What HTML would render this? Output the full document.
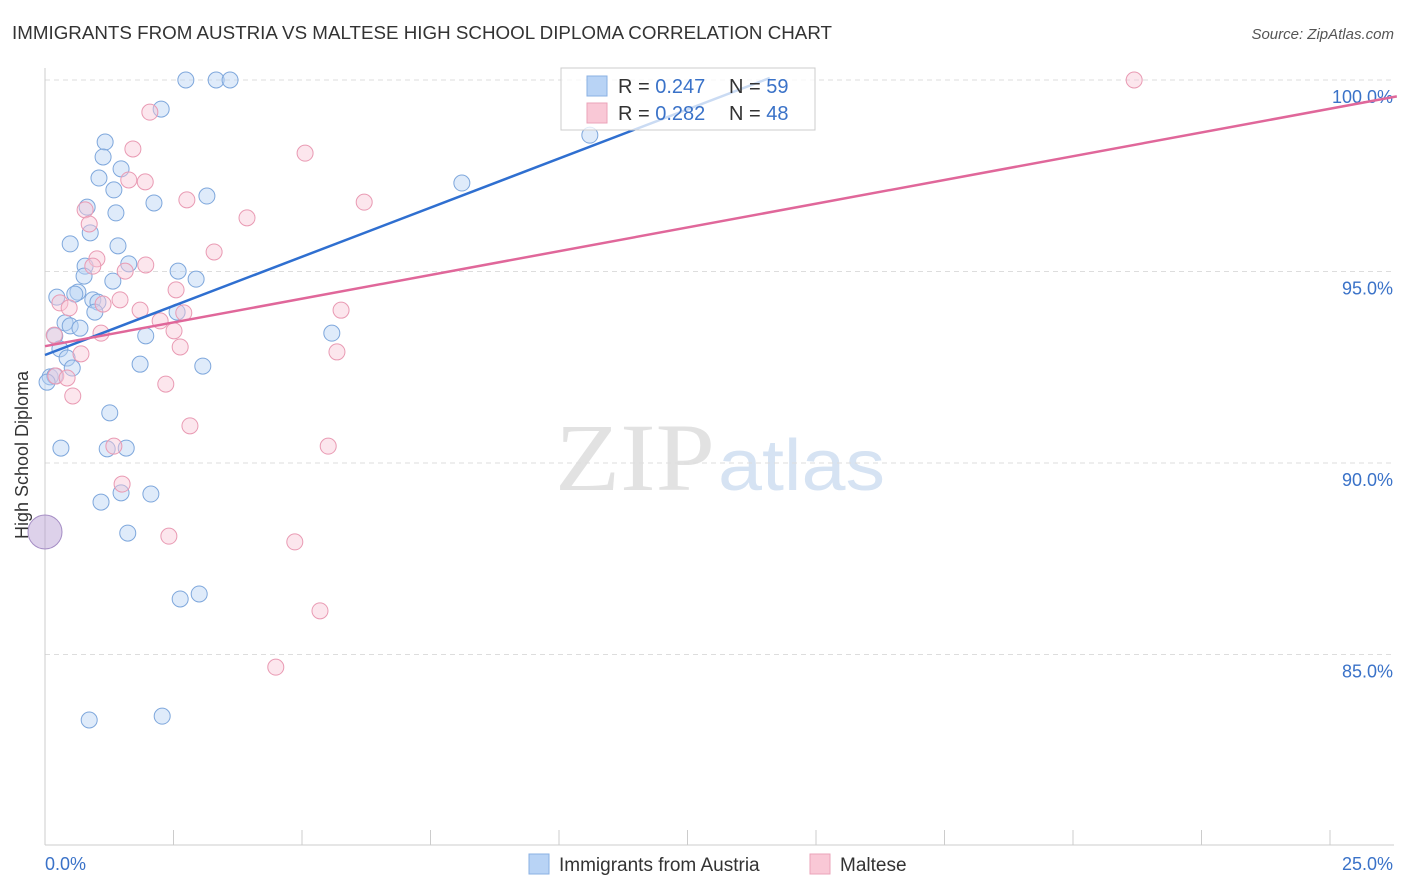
<!DOCTYPE html>
<html><head><meta charset="utf-8"><style>
body{margin:0;background:#fff;font-family:"Liberation Sans",sans-serif;}
#c{position:relative;width:1406px;height:892px;overflow:hidden;}
</style></head><body>
<div id="c">
<svg id="s" width="1406" height="892" xmlns="http://www.w3.org/2000/svg">
<text x="12" y="39" font-size="18" fill="#333" textLength="820" lengthAdjust="spacingAndGlyphs">IMMIGRANTS FROM AUSTRIA VS MALTESE HIGH SCHOOL DIPLOMA CORRELATION CHART</text>
<text x="1394" y="39" font-size="15" fill="#555" font-style="italic" text-anchor="end">Source: ZipAtlas.com</text>
<text x="555" y="490" font-size="96" fill="#e2e2e2" textLength="160" lengthAdjust="spacingAndGlyphs" font-family="Liberation Serif,serif">ZIP</text>
<text x="718" y="490" font-size="72" fill="#d6e3f3" textLength="167" lengthAdjust="spacingAndGlyphs">atlas</text>
<g id="grid"></g><g id="axes"></g><g id="pts"></g><g id="lines"></g>
<text x="28" y="455" font-size="18" fill="#333" text-anchor="middle" transform="rotate(-90 28 455)">High School Diploma</text>
<g>
<rect x="561" y="68" width="254" height="62" fill="#fff" fill-opacity="0.75" stroke="#ccc"/>
<rect x="587" y="76" width="20" height="20" fill="#b8d3f5" stroke="#8ab0e3"/>
<text x="618" y="93" font-size="20" fill="#333">R = <tspan fill="#3a72c8">0.247</tspan></text>
<text x="729" y="93" font-size="20" fill="#333">N = <tspan fill="#3a72c8">59</tspan></text>
<rect x="587" y="103" width="20" height="20" fill="#f9c8d6" stroke="#eba3b9"/>
<text x="618" y="120" font-size="20" fill="#333">R = <tspan fill="#3a72c8">0.282</tspan></text>
<text x="729" y="120" font-size="20" fill="#333">N = <tspan fill="#3a72c8">48</tspan></text>
</g>
<g>
<rect x="529" y="854" width="20" height="20" fill="#b8d3f5" stroke="#8ab0e3"/>
<text x="559" y="871" font-size="19" fill="#333">Immigrants from Austria</text>
<rect x="810" y="854" width="20" height="20" fill="#f9c8d6" stroke="#eba3b9"/>
<text x="840" y="871" font-size="19" fill="#333">Maltese</text>
</g>
</svg></div>
<script>
const blueX=[2.74,3.33,3.60,2.26,1.17,10.60,1.13,1.48,1.05,1.34,3.15,2.12,8.11,0.82,1.38,0.88,0.49,1.42,1.63,0.78,2.59,0.76,2.94,1.32,0.23,0.64,0.58,0.93,1.03,0.97,2.57,0.39,0.49,0.68,0.19,1.96,5.58,0.29,0.43,1.85,3.07,0.53,0.10,0.19,0.04,1.26,0.31,1.21,1.58,1.09,1.48,2.06,1.61,2.63,3.00,0.86,2.28];
const blueY=[100,100,100,99.24,98.38,98.56,97.99,97.68,97.44,97.13,96.97,96.79,97.31,96.68,96.53,96.01,95.72,95.67,95.20,95.14,95.01,94.88,94.80,94.75,94.33,94.46,94.41,94.26,94.20,93.94,93.94,93.66,93.58,93.52,93.32,93.32,93.39,92.98,92.74,92.58,92.53,92.48,92.25,92.27,92.11,91.31,90.39,90.37,90.39,88.98,89.22,89.19,88.17,86.45,86.58,83.29,83.39];
const pinkX=[21.19,2.04,1.71,5.06,1.95,1.63,2.76,6.21,0.78,0.86,3.93,3.29,1.01,1.96,0.93,1.56,2.55,0.29,0.47,1.46,1.13,1.85,2.70,2.24,2.51,1.09,5.76,0.18,2.63,0.70,5.68,0.21,0.43,2.35,0.54,2.82,5.51,1.34,1.50,2.41,4.86,5.35,4.49];
const pinkY=[100,99.16,98.20,98.09,97.34,97.39,96.87,96.81,96.61,96.24,96.40,95.51,95.33,95.17,95.14,95.01,94.52,94.18,94.05,94.26,94.15,93.99,93.92,93.71,93.45,93.39,93.99,93.34,93.03,92.85,92.90,92.27,92.22,92.06,91.75,90.97,90.44,90.44,89.45,88.09,87.94,86.14,84.67];
const bigX=[0],bigY=[88.2];
const yTicks=[100,95,90,85];
const yTickLabels=["100.0%","95.0%","90.0%","85.0%"];
const xEnds=["0.0%","25.0%"];
const blueLine=[0,14.1,92.82,0.513];
const pinkLine=[0,26.3,93.05,0.248];
const NS="http://www.w3.org/2000/svg";
const X=v=>45+v*51.4, Y=v=>80+(100-v)*38.3;
function mk(p,t,a){const e=document.createElementNS(NS,t);for(const k in a)e.setAttribute(k,a[k]);document.getElementById(p).appendChild(e);return e;}
yTicks.forEach((t,i)=>{
 const l=mk('grid','line',{x1:45,x2:1394,y1:Y(t),y2:Y(t),stroke:'#ddd','stroke-dasharray':'5,4'});
 
 
 const tx=mk('axes','text',{x:1393,y:Y(t)+23,'font-size':18,fill:'#3a72c8','text-anchor':'end'});
 tx.textContent=yTickLabels[i];
 
 
});
const ax=mk('axes','line',{x1:45,x2:1394,y1:845,y2:845,stroke:'#ccc'});


const ay=mk('axes','line',{x1:45,x2:45,y1:68,y2:845,stroke:'#ccc'});


for(let i=0;i<=10;i++){
 const t=mk('axes','line',{x1:X(i*2.5),x2:X(i*2.5),y1:830,y2:845,stroke:'#ccc'});
 
 
}
[[0,45,'start'],[1,1393,'end']].forEach(([i,x,a])=>{
 const t=mk('axes','text',{x:x,y:870,'font-size':18,fill:'#3a72c8','text-anchor':a});
 t.textContent=xEnds[i];
 
 
});
function dots(xs,ys,fill,stroke,name,r){
 xs.forEach((x,i)=>{
  const c=mk('pts','circle',{cx:X(x),cy:Y(ys[i]),r:r,fill:fill,'fill-opacity':0.45,stroke:stroke,'stroke-width':1});
  
  
 });
}
dots(blueX,blueY,'#b8d3f5','#7ea7dc','austria-point',8);
dots(pinkX,pinkY,'#f9c8d6','#e99ab3','maltese-point',8);
dots(bigX,bigY,'#b49ad0','#a48cc4','large-point',17);
function reg(L,col,name){
 const l=mk('lines','line',{x1:X(L[0]),y1:Y(L[2]+L[3]*L[0]),x2:X(L[1]),y2:Y(L[2]+L[3]*L[1]),stroke:col,'stroke-width':2.5});
 
 
}
reg(blueLine,'#2f6fd0','austria-trend-line');
reg(pinkLine,'#e0679a','maltese-trend-line');
</script>
</body></html>
